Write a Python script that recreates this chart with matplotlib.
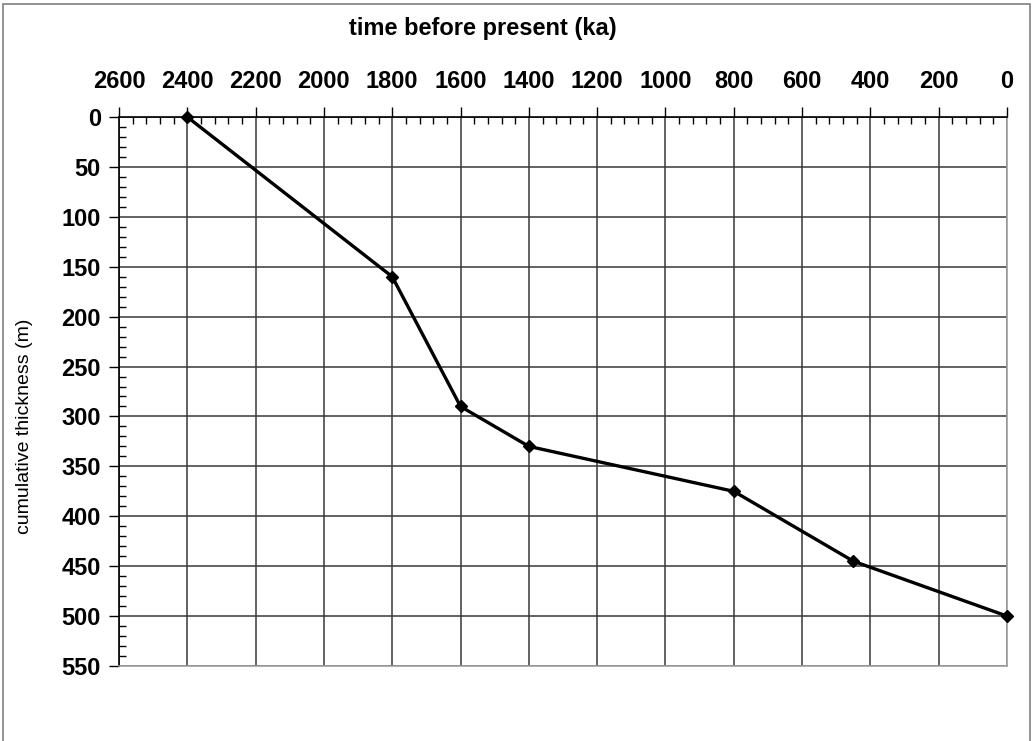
import matplotlib
matplotlib.use("Agg")
import matplotlib.pyplot as plt
from matplotlib.ticker import MultipleLocator
from matplotlib.patches import Rectangle

plt.rcParams['font.family'] = ['Liberation Sans', 'DejaVu Sans']

# age (ka) and cumulative thickness (m)
age_ka = [2400, 1800, 1600, 1400, 800, 450, 0]
thickness_m = [0, 160, 290, 330, 375, 445, 500]

x_ticks = list(range(2600, -1, -200))
y_ticks = list(range(0, 551, 50))

W, H = 1035, 741
fig = plt.figure(figsize=(W / 100, H / 100), dpi=100)
fig.patch.set_facecolor('white')

# outer frame of the picture
fig.patches.append(Rectangle((3 / W, -0.05), 1027 / W, 1.05 - 4 / H, transform=fig.transFigure,
                             fill=False, edgecolor='#808080', linewidth=1.2))

ax = fig.add_axes([119 / W, 1 - 666 / H, (1007 - 119) / W, (666 - 117) / H])
ax.set_xlim(2600, 0)
ax.set_ylim(550, 0)

ax.xaxis.tick_top()
ax.set_xticks(x_ticks)
ax.set_yticks(y_ticks)
ax.xaxis.set_minor_locator(MultipleLocator(40))
ax.yaxis.set_minor_locator(MultipleLocator(10))

ax.tick_params(which='major', direction='out', length=7, width=1, color='black')
ax.tick_params(which='minor', direction='in', length=5, width=1, color='black')
ax.tick_params(axis='x', which='both', top=True, bottom=False, pad=10)
ax.tick_params(axis='y', which='both', left=True, right=False, pad=6)

for lab in ax.get_xticklabels() + ax.get_yticklabels():
    lab.set_fontsize(17)
    lab.set_fontweight('bold')

# grid
ax.grid(True, which='major', color='#383838', linewidth=1.1)
ax.set_axisbelow(True)

# spines
ax.spines['top'].set_color('black')
ax.spines['left'].set_color('black')
ax.spines['right'].set_color('#a0a0a0')
ax.spines['bottom'].set_color('#a0a0a0')
for s in ax.spines.values():
    s.set_linewidth(1.2)

ax.plot(age_ka, thickness_m, color='black', linewidth=2.4, marker='D', markersize=6,
        clip_on=False, zorder=5)

fig.text(483 / W, 1 - 29 / H, 'time before present (ka)', ha='center', va='center',
         fontsize=17, fontweight='bold')
fig.text(25 / W, 1 - 426 / H, 'cumulative thickness (m)', ha='center', va='center',
         rotation=90, fontsize=14)

fig.savefig('out.png', dpi=100)
